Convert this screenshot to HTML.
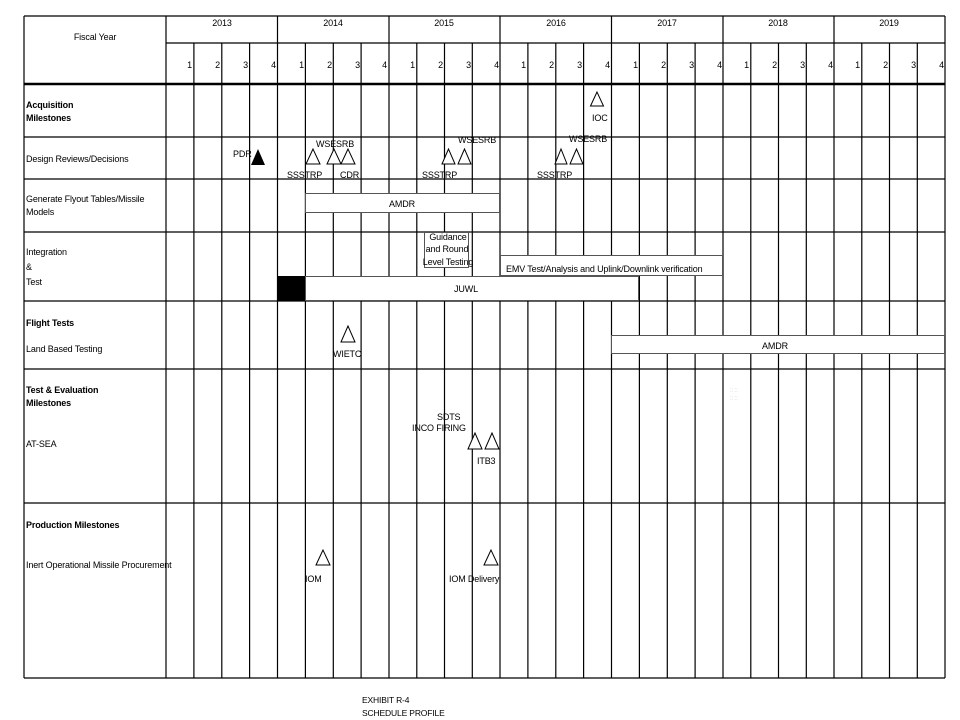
<!DOCTYPE html>
<html><head><meta charset="utf-8"><style>
html,body{margin:0;padding:0;background:#fff;}
svg{display:block;}
text{font-family:"Liberation Sans",Arial,sans-serif;font-size:9px;fill:#000;letter-spacing:-0.15px;}
.b{font-weight:bold;}
</style></head><body>
<svg width="960" height="720" viewBox="0 0 960 720" xmlns="http://www.w3.org/2000/svg">
<g stroke="#000" stroke-width="1.2" fill="none">
<line x1="24" y1="16" x2="945" y2="16"/>
<line x1="166" y1="43" x2="945" y2="43"/>
<line x1="24" y1="84" x2="945" y2="84" stroke-width="2.6"/>
<line x1="24" y1="137" x2="945" y2="137"/>
<line x1="24" y1="179" x2="945" y2="179"/>
<line x1="24" y1="232" x2="945" y2="232"/>
<line x1="24" y1="301" x2="945" y2="301"/>
<line x1="24" y1="369" x2="945" y2="369"/>
<line x1="24" y1="503" x2="945" y2="503"/>
<line x1="24" y1="678" x2="945" y2="678"/>
<line x1="24" y1="16" x2="24" y2="678"/>
<line x1="166" y1="16" x2="166" y2="678"/>
<line x1="277.5" y1="16" x2="277.5" y2="678"/>
<line x1="389" y1="16" x2="389" y2="678"/>
<line x1="500" y1="16" x2="500" y2="678"/>
<line x1="611.5" y1="16" x2="611.5" y2="678"/>
<line x1="723" y1="16" x2="723" y2="678"/>
<line x1="834" y1="16" x2="834" y2="678"/>
<line x1="945" y1="16" x2="945" y2="678"/>
<line x1="193.9" y1="43" x2="193.9" y2="678"/>
<line x1="221.8" y1="43" x2="221.8" y2="678"/>
<line x1="249.6" y1="43" x2="249.6" y2="678"/>
<line x1="305.4" y1="43" x2="305.4" y2="678"/>
<line x1="333.3" y1="43" x2="333.3" y2="678"/>
<line x1="361.1" y1="43" x2="361.1" y2="678"/>
<line x1="416.8" y1="43" x2="416.8" y2="678"/>
<line x1="444.5" y1="43" x2="444.5" y2="678"/>
<line x1="472.3" y1="43" x2="472.3" y2="678"/>
<line x1="527.9" y1="43" x2="527.9" y2="678"/>
<line x1="555.8" y1="43" x2="555.8" y2="678"/>
<line x1="583.6" y1="43" x2="583.6" y2="678"/>
<line x1="639.4" y1="43" x2="639.4" y2="678"/>
<line x1="667.3" y1="43" x2="667.3" y2="678"/>
<line x1="695.1" y1="43" x2="695.1" y2="678"/>
<line x1="750.8" y1="43" x2="750.8" y2="678"/>
<line x1="778.5" y1="43" x2="778.5" y2="678"/>
<line x1="806.3" y1="43" x2="806.3" y2="678"/>
<line x1="861.8" y1="43" x2="861.8" y2="678"/>
<line x1="889.5" y1="43" x2="889.5" y2="678"/>
<line x1="917.3" y1="43" x2="917.3" y2="678"/>
</g>
<text x="95" y="40" text-anchor="middle">Fiscal Year</text>
<g text-anchor="middle">
<text x="222" y="26">2013</text><text x="333" y="26">2014</text><text x="444" y="26">2015</text>
<text x="556" y="26">2016</text><text x="667" y="26">2017</text><text x="778" y="26">2018</text><text x="889" y="26">2019</text>
</g>
<g text-anchor="end">
<text x="192" y="68">1</text><text x="220" y="68">2</text><text x="248" y="68">3</text><text x="276" y="68">4</text>
<text x="304" y="68">1</text><text x="332" y="68">2</text><text x="360" y="68">3</text><text x="387" y="68">4</text>
<text x="415" y="68">1</text><text x="443" y="68">2</text><text x="471" y="68">3</text><text x="499" y="68">4</text>
<text x="526" y="68">1</text><text x="554" y="68">2</text><text x="582" y="68">3</text><text x="610" y="68">4</text>
<text x="638" y="68">1</text><text x="666" y="68">2</text><text x="694" y="68">3</text><text x="722" y="68">4</text>
<text x="749" y="68">1</text><text x="777" y="68">2</text><text x="805" y="68">3</text><text x="833" y="68">4</text>
<text x="860" y="68">1</text><text x="888" y="68">2</text><text x="916" y="68">3</text><text x="944" y="68">4</text>
</g>
<text x="26" y="108" class="b">Acquisition</text>
<text x="26" y="121" class="b">Milestones</text>
<text x="26" y="162">Design Reviews/Decisions</text>
<text x="26" y="202">Generate Flyout Tables/Missile</text>
<text x="26" y="215"> Models</text>
<text x="26" y="255">Integration</text>
<text x="26" y="270">&amp;</text>
<text x="26" y="285">Test</text>
<text x="26" y="326" class="b">Flight Tests</text>
<text x="26" y="352">Land Based Testing</text>
<text x="26" y="393" class="b">Test &amp; Evaluation</text>
<text x="26" y="406" class="b">Milestones</text>
<text x="26" y="447">AT-SEA</text>
<text x="26" y="528" class="b">Production Milestones</text>
<text x="26" y="568">Inert Operational Missile Procurement</text>
<g stroke="#555" stroke-width="1" fill="#fff">
<rect x="305.5" y="193.5" width="194" height="19"/>
<rect x="424.5" y="232.5" width="44" height="35"/>
<rect x="500.5" y="255.5" width="222" height="20"/>
<rect x="305.5" y="276.5" width="333" height="24"/>
<rect x="611.5" y="335.5" width="333" height="18"/>
</g>
<rect x="277" y="276" width="28" height="25" fill="#000"/>
<text x="402" y="207" text-anchor="middle">AMDR</text>
<text x="448" y="240" text-anchor="middle">Guidance</text>
<text x="447" y="252" text-anchor="middle">and  Round</text>
<text x="448" y="265" text-anchor="middle">Level  Testing</text>
<text x="506" y="272">EMV Test/Analysis and Uplink/Downlink verification</text>
<text x="466" y="292" text-anchor="middle">JUWL</text>
<text x="775" y="349" text-anchor="middle">AMDR</text>
<g stroke="#000" stroke-width="1" fill="#fff">
<polygon points="597,92 590.5,106 603.5,106"/>
<polygon points="313,149 306,164 320,164"/>
<polygon points="334,149 327,164 341,164"/>
<polygon points="348,149 341,164 355,164"/>
<polygon points="448.5,149 442,164 455,164"/>
<polygon points="464.5,149 458,164 471,164"/>
<polygon points="561,149 555,164 567,164"/>
<polygon points="576.5,149 570,164 583,164"/>
<polygon points="348,326 341,342 355,342"/>
<polygon points="475,433 468,449 482,449"/>
<polygon points="492,433 485,449 499,449"/>
<polygon points="323,550 316,565 330,565"/>
<polygon points="491,550 484,565 498,565"/>
</g>
<polygon points="258,149 251,165 265,165" fill="#000"/>
<text x="592" y="121">IOC</text>
<text x="233" y="157">PDR</text>
<text x="316" y="147">WSESRB</text>
<text x="287" y="178">SSSTRP</text>
<text x="340" y="178">CDR</text>
<text x="458" y="143">WSESRB</text>
<text x="422" y="178">SSSTRP</text>
<text x="569" y="142">WSESRB</text>
<text x="537" y="178">SSSTRP</text>
<text x="333" y="357">WIETC</text>
<text x="437" y="420">SDTS</text>
<text x="412" y="431">INCO FIRING</text>
<text x="477" y="464">ITB3</text>
<text x="305" y="582">IOM</text>
<text x="449" y="582">IOM Delivery</text>
<text x="730" y="392" style="fill:#ccc;font-size:6px">:: ::</text>
<text x="730" y="400" style="fill:#ccc;font-size:6px">:: ::</text>
<text x="362" y="703" style="font-size:8.5px">EXHIBIT R-4</text>
<text x="362" y="716" style="font-size:8.5px">SCHEDULE PROFILE</text>
</svg>
</body></html>
